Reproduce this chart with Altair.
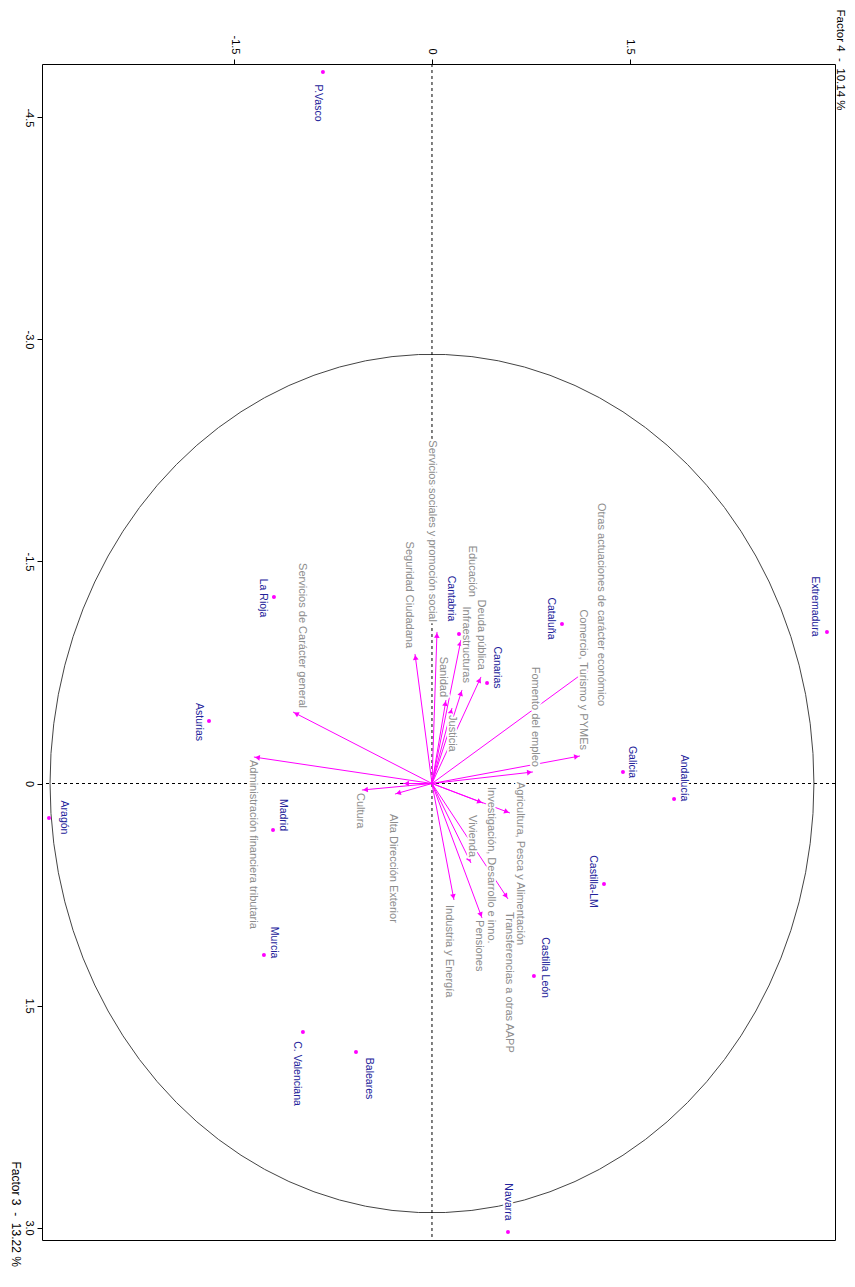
import math
import altair as alt
import numpy as np
import pandas as pd

# ---------------- data ----------------
regions = ["P.Vasco", "Extremadura", "Cataluña", "Galicia", "Andalucía", "Castilla-LM",
           "Castilla León", "Canarias", "Cantabria", "La Rioja", "Asturias", "Aragón",
           "Madrid", "Murcia", "C. Valenciana", "Baleares", "Navarra"]
region_f4 = [-0.828, 2.999, 0.987, 1.450, 1.838, 1.306, 0.774, 0.418, 0.205, -1.200,
             -1.693, -2.908, -1.207, -1.276, -0.980, -0.577, 0.577]
region_f3 = [-4.807, -1.024, -1.078, -0.078, 0.105, 0.679, 1.301, -0.679, -1.010, -1.260,
             -0.422, 0.233, 0.314, 1.159, 1.679, 1.814, 3.030]

variables = ["Servicios sociales y promoción social", "Seguridad Ciudadana", "Educación",
             "Infraestructuras", "Deuda pública", "Sanidad", "Justicia",
             "Otras actuaciones de carácter económico", "Comercio, Turismo y PYMEs",
             "Fomento del empleo", "Agricultura, Pesca y Alimentación",
             "Investigación, Desarrollo e inno.", "Vivienda", "Transferencias a otras AAPP",
             "Pensiones", "Industria y Energía", "Alta Dirección Exterior", "Cultura",
             "Administración financiera tributaria", "Servicios de Carácter general", ""]
var_f4 = [0.038, -0.129, 0.220, 0.228, 0.372, 0.106, 0.152, 1.200, 1.124, 0.767, 0.592,
          0.387, 0.296, 0.577, 0.380, 0.167, -0.281, -0.532, -1.352, -1.055, -0.220]
var_f3 = [-1.024, -0.875, -0.970, -0.632, -0.720, -0.564, -0.510, -0.780, -0.186, -0.078,
          0.199, 0.132, 0.537, 0.780, 0.909, 0.787, 0.071, 0.044, -0.179, -0.483, 0.000]

x_ticks = [-1.5, 0, 1.5]
y_ticks = [-4.5, -3.0, -1.5, 0, 1.5, 3.0]
circle_radius = 2.9
NB = "\u00a0"
title_f4 = f"Factor 4{NB}{NB}-{NB}{NB}10.14 %"
title_f3 = f"Factor 3{NB}{NB}-{NB}{NB}13.22 %"

# ---------------- layout / style ----------------
W, H = 793, 1176
XDOM = [-2.961, 3.060]
YDOM = [-4.861, 3.084]
PXX = W / (XDOM[1] - XDOM[0])
PXY = H / (YDOM[1] - YDOM[0])
MAGENTA = "#FF00FF"
BLUE = "#22229a"
GREY = "#8c8c8c"
FONT = "Liberation Sans"

# label placement offsets in pixels (page coords)
region_label_pos = {
    "P.Vasco": (-5, 31), "Extremadura": (-11.5, -25.5), "Cataluña": (-10.5, -5.5),
    "Galicia": (9.5, -10), "Andalucía": (10, -21), "Castilla-LM": (-10.5, -2.5),
    "Castilla León": (11, -8.5), "Canarias": (9.5, -15.5), "Cantabria": (-7.5, -35.5),
    "La Rioja": (-10.5, 1), "Asturias": (-10, 1), "Aragón": (15, -0.5),
    "Madrid": (10, -15), "Murcia": (10, -12.5), "C. Valenciana": (-6, 41.5),
    "Baleares": (13.5, 26.5), "Navarra": (0.5, -30),
}
# (ox, oy, anchor): "end" -> text ends at the anchor, "start" -> starts there
var_label_pos = {
    "Servicios sociales y promoción social": (-5, -10, "end"),
    "Seguridad Ciudadana": (-6, -6, "end"),
    "Educación": (11, -43, "end"),
    "Infraestructuras": (4, -7, "end"),
    "Deuda pública": (0, -7, "end"),
    "Sanidad": (-3, -3, "end"),
    "Justicia": (0, 7, "start"),
    "Otras actuaciones de carácter económico": (11, 38, "end"),
    "Comercio, Turismo y PYMEs": (3, -6, "end"),
    "Fomento del empleo": (2, -5, "end"),
    "Agricultura, Pesca y Alimentación": (10, -31, "start"),
    "Investigación, Desarrollo e inno.": (8, -16, "start"),
    "Vivienda": (1, -6, "end"),
    "Transferencias a otras AAPP": (1, 13, "start"),
    "Pensiones": (-3, 2, "start"),
    "Industria y Energía": (-5, 5, "start"),
    "Alta Dirección Exterior": (-2, 20, "start"),
    "Cultura": (-2, 3, "start"),
    "Administración financiera tributaria": (-1, 3, "start"),
    "Servicios de Carácter general": (9, -4, "end"),
}

# ---------------- tables ----------------
reg = pd.DataFrame({"name": regions, "f4": region_f4, "f3": region_f3})
reg["lx"] = [f + region_label_pos[n][0] / PXX for n, f in zip(regions, region_f4)]
reg["ly"] = [f + region_label_pos[n][1] / PXY for n, f in zip(regions, region_f3)]

rows = []
for n, a, b in zip(variables, var_f4, var_f3):
    dxp, dyp = a * PXX, b * PXY
    L = math.hypot(dxp, dyp)
    ux, uy = dxp / L, dyp / L
    ang = math.degrees(math.atan2(dxp, -dyp)) % 360
    ox, oy, anc = var_label_pos.get(n, (0, 0, "none"))
    rows.append({"name": n, "f4": a, "f3": b, "x0": 0.0, "y0": 0.0,
                 "hx": a - 3.5 * ux / PXX, "hy": b - 3.5 * uy / PXY, "ang": ang,
                 "lx": a + ox / PXX, "ly": b + oy / PXY, "anchor": anc})
var = pd.DataFrame(rows)

t = np.arange(0, 361, 4)
circ = pd.DataFrame({"i": t, "f4": circle_radius * np.cos(np.radians(t)),
                     "f3": circle_radius * np.sin(np.radians(t))})

xs = alt.Scale(domain=XDOM, nice=False, zero=False)
ys = alt.Scale(domain=YDOM, nice=False, zero=False, reverse=True)
lab_expr = "datum.value == 0 ? '0' : replace(format(datum.value, '.1f'), '\u2212', '-')"

x_axis = alt.Axis(orient="top", values=x_ticks, grid=False, domain=False, ticks=True,
                  tickSize=5, tickColor="black", labelAngle=90, labelAlign="right",
                  labelBaseline="middle", labelPadding=5, labelFontSize=11, labelFont=FONT,
                  labelColor="black", labelExpr=lab_expr, title=title_f4, titleAngle=90,
                  titleX=797, titleY=-55, titleAlign="left", titleBaseline="middle",
                  titleFont=FONT, titleFontSize=11.5, titleFontWeight="normal",
                  titleColor="black")
y_axis = alt.Axis(orient="left", values=y_ticks, grid=False, domain=False, ticks=True,
                  tickSize=5, tickColor="black", labelAngle=90, labelAlign="center",
                  labelBaseline="middle", labelPadding=9, labelFontSize=11, labelFont=FONT,
                  labelColor="black", labelExpr=lab_expr, title=title_f3, titleAngle=90,
                  titleX=-27, titleY=1097, titleAlign="left", titleBaseline="middle",
                  titleFont=FONT, titleFontSize=12, titleFontWeight="normal",
                  titleColor="black")


def X(f):
    return alt.X(f, scale=xs, axis=x_axis)


def Y(f):
    return alt.Y(f, scale=ys, axis=y_axis)


circle = alt.Chart(circ).mark_line(color="#444444", strokeWidth=1).encode(
    x=X("f4:Q"), y=Y("f3:Q"), order="i:Q")

zero = pd.DataFrame({"z": [0.0]})
vline = alt.Chart(zero).mark_rule(color="black", strokeWidth=1, strokeDash=[3, 3]).encode(
    x=X("z:Q"))
hline = alt.Chart(zero).mark_rule(color="black", strokeWidth=1, strokeDash=[3, 3]).encode(
    y=Y("z:Q"))

arrows = alt.Chart(var).mark_rule(color=MAGENTA, strokeWidth=1).encode(
    x=X("x0:Q"), y=Y("y0:Q"), x2="f4:Q", y2="f3:Q")
heads = alt.Chart(var).mark_point(shape="triangle-up", filled=True, color=MAGENTA,
                                  size=32, opacity=1).encode(
    x=X("hx:Q"), y=Y("hy:Q"), angle=alt.Angle("ang:Q", scale=None))

pts = alt.Chart(reg).mark_circle(color=MAGENTA, size=16, opacity=1).encode(
    x=X("f4:Q"), y=Y("f3:Q"))


def text_layer(df, align, color, size, halo):
    kw = dict(angle=90, align=align, baseline="middle", font=FONT, fontSize=size)
    if halo:
        m = alt.Chart(df).mark_text(color="white", stroke="white", strokeWidth=4,
                                    strokeJoin="round", **kw)
    else:
        m = alt.Chart(df).mark_text(color=color, **kw)
    return m.encode(x=X("lx:Q"), y=Y("ly:Q"), text="name:N")


var_end = var[var["anchor"] == "end"]
var_start = var[var["anchor"] == "start"]

layers = [circle, vline, hline, arrows, heads, pts]
for halo in (True, False):
    layers.append(text_layer(var_end, "right", GREY, 11, halo))
    layers.append(text_layer(var_start, "left", GREY, 11, halo))
    layers.append(text_layer(reg, "center", BLUE, 10.5, halo))

chart = alt.layer(*layers).properties(
    width=W, height=H,
    autosize=alt.AutoSizeParams(type="none"),
    padding={"left": 34, "top": 56, "right": 12, "bottom": 36},
    background="white",
).configure_view(stroke="black", strokeWidth=1)

chart.save("out.html", embed_options={"renderer": "svg", "actions": False})
